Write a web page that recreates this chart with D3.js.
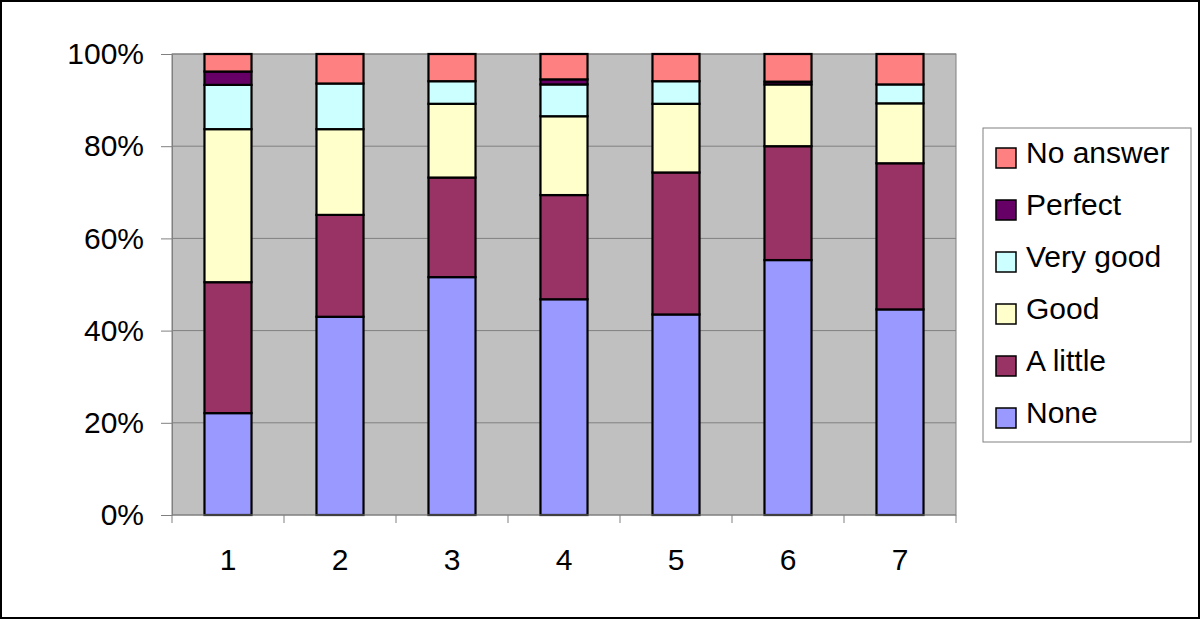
<!DOCTYPE html>
<html>
<head>
<meta charset="utf-8">
<script src="https://cdn.jsdelivr.net/npm/d3@7"></script>
<style>
  html, body { margin: 0; padding: 0; background: #fff; }
  svg { display: block; font-family: "Liberation Sans", Arial, sans-serif; }
</style>
</head>
<body>
<svg id="chart" width="1200" height="619"></svg>
<script>
// categories along the x axis
const groups = ['1', '2', '3', '4', '5', '6', '7'];

// stacking order, bottom to top
const answers = ['None', 'A little', 'Good', 'Very good', 'Perfect', 'No answer'];

// percent shares per group, one array per answer
const none      = [22.1, 43.0, 51.6, 46.8, 43.5, 55.3, 44.6];
const aLittle   = [28.4, 22.1, 21.6, 22.6, 30.8, 24.7, 31.7];
const good      = [33.2, 18.6, 16.0, 17.1, 14.9, 13.4, 13.0];
const veryGood  = [ 9.6,  9.9,  4.9,  6.9,  4.9,  0.0,  4.1];
const perfect   = [ 2.9,  0.0,  0.0,  1.1,  0.0,  0.6,  0.0];
const noAnswer  = [ 3.8,  6.4,  5.9,  5.5,  5.9,  6.0,  6.6];

const yTicks = [0, 20, 40, 60, 80, 100];

const COLORS = {
  'None':      '#9999ff',
  'A little':  '#993366',
  'Good':      '#ffffcc',
  'Very good': '#ccffff',
  'Perfect':   '#660066',
  'No answer': '#ff8080',
};

const seriesVals = [none, aLittle, good, veryGood, perfect, noAnswer];
const rows = groups.map((g, i) => {
  const r = { group: g };
  answers.forEach((a, k) => { r[a] = seriesVals[k][i]; });
  return r;
});

const M = { top: 54, left: 172, right: 244, bottom: 104 };
const W = 1200, H = 619;
const svg = d3.select('#chart');

// outer frame
svg.append('rect')
  .attr('x', 1).attr('y', 1).attr('width', W - 2).attr('height', H - 2)
  .attr('fill', '#fff').attr('stroke', '#000').attr('stroke-width', 2);

const x = d3.scaleBand()
  .domain(groups)
  .range([M.left, W - M.right])
  .paddingInner(0.58).paddingOuter(0.29);

const y = d3.scaleLinear()
  .domain([0, 100])
  .range([H - M.bottom, M.top]);

// plot background
svg.append('rect')
  .attr('x', M.left).attr('y', M.top)
  .attr('width', W - M.right - M.left).attr('height', H - M.bottom - M.top)
  .attr('fill', '#c0c0c0').attr('stroke', '#808080').attr('stroke-width', 1);

// gridlines
svg.append('g')
  .selectAll('line')
  .data(yTicks.slice(1))
  .join('line')
  .attr('x1', M.left).attr('x2', W - M.right)
  .attr('y1', d => y(d)).attr('y2', d => y(d))
  .attr('stroke', '#808080').attr('stroke-width', 1);

// stacked bars
const stack = d3.stack().keys(answers)(rows);
svg.append('g')
  .selectAll('g')
  .data(stack)
  .join('g')
  .attr('fill', s => COLORS[s.key])
  .selectAll('rect')
  .data(s => s.filter(d => d[1] - d[0] > 0))
  .join('rect')
  .attr('x', d => x(d.data.group))
  .attr('width', x.bandwidth())
  .attr('y', d => y(d[1]))
  .attr('height', d => y(d[0]) - y(d[1]))
  .attr('stroke', '#000').attr('stroke-width', 2.2);

// y axis
const yAxis = svg.append('g')
  .attr('transform', `translate(${M.left},0)`)
  .call(d3.axisLeft(y).tickValues(yTicks).tickSize(11).tickPadding(17)
    .tickFormat(d => d + '%'));
yAxis.selectAll('line, path').attr('stroke', '#808080');
yAxis.selectAll('text').attr('font-size', 30).attr('fill', '#000')
  .attr('font-family', '"Liberation Sans", Arial, sans-serif');

// x axis: ticks sit between categories
const xAxisG = svg.append('g')
  .attr('transform', `translate(0,${H - M.bottom})`);
xAxisG.append('line')
  .attr('x1', M.left).attr('x2', W - M.right)
  .attr('stroke', '#808080');
const step = x.step();
const bounds = d3.range(groups.length + 1).map(i => M.left + i * step);
xAxisG.selectAll('.xt')
  .data(bounds)
  .join('line')
  .attr('class', 'xt')
  .attr('x1', d => d).attr('x2', d => d)
  .attr('y1', 0).attr('y2', 8)
  .attr('stroke', '#808080');
xAxisG.selectAll('.xl')
  .data(groups)
  .join('text')
  .attr('class', 'xl')
  .attr('x', d => x(d) + x.bandwidth() / 2)
  .attr('y', 55)
  .attr('text-anchor', 'middle')
  .attr('font-size', 30)
  .text(d => d);

// legend
const LX = 983, LY = 128, LW = 208, LH = 314;
const leg = svg.append('g');
leg.append('rect')
  .attr('x', LX).attr('y', LY).attr('width', LW).attr('height', LH)
  .attr('fill', '#fff').attr('stroke', '#808080').attr('stroke-width', 1);

const legItems = answers.slice().reverse();
const item = leg.selectAll('.li')
  .data(legItems)
  .join('g')
  .attr('class', 'li')
  .attr('transform', (d, i) => `translate(${LX + 13},${158 + i * 52})`);
item.append('rect')
  .attr('x', 0).attr('y', -10).attr('width', 20).attr('height', 20)
  .attr('fill', d => COLORS[d]).attr('stroke', '#000').attr('stroke-width', 1.5);
item.append('text')
  .attr('x', 30).attr('y', 5)
  .attr('font-size', 30)
  .text(d => d);
</script>
</body>
</html>
